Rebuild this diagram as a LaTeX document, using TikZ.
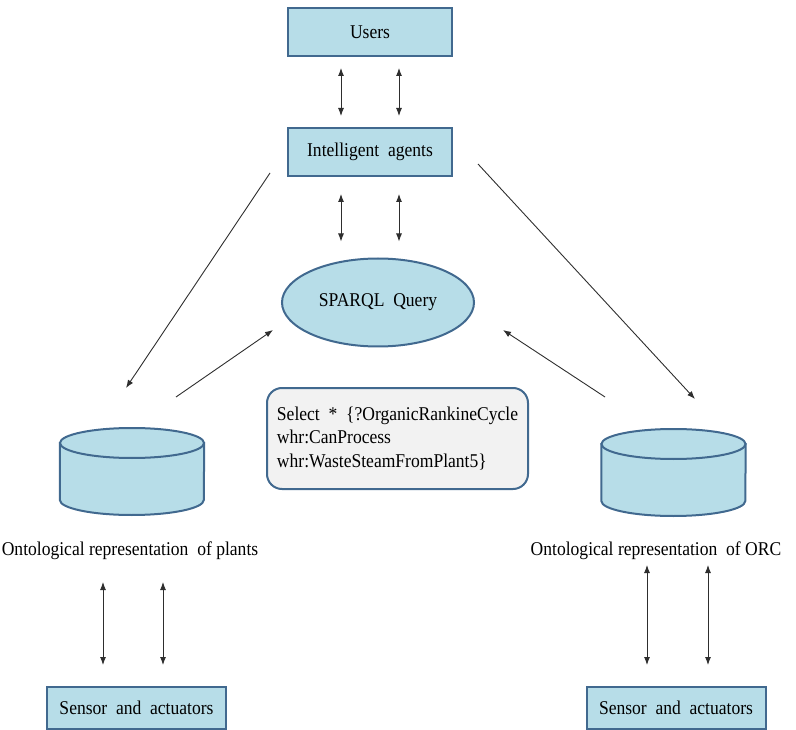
\documentclass[tikz,border=0pt]{standalone}
\usepackage{fontspec}
\setmainfont{Liberation Serif}[FakeStretch=0.9]
\usetikzlibrary{arrows.meta,shapes.geometric}

\definecolor{boxfill}{HTML}{B7DDE8}
\definecolor{boxline}{HTML}{41698F}
\definecolor{queryfill}{HTML}{F2F2F2}
\definecolor{arrowgray}{HTML}{2E2E2E}

\tikzset{
  bluebox/.style={draw=boxline, line width=2pt, fill=boxfill, rectangle,
    minimum width=164pt, minimum height=48pt, inner sep=0pt},
  sensorbox/.style={bluebox, minimum width=179pt, minimum height=42pt},
  queryellipse/.style={draw=boxline, line width=2pt, fill=boxfill, ellipse,
    minimum width=192pt, minimum height=88pt, inner sep=0pt},
  querybox/.style={draw=boxline, line width=2pt, fill=queryfill,
    rounded corners=15pt, minimum width=261pt, minimum height=101pt,
    inner sep=0pt, align=left},
  dbslot/.style={minimum width=144pt, minimum height=88pt, inner sep=0pt},
  dbshape/.style={draw=boxline, line width=2pt, fill=boxfill},
  biarrow/.style={draw=arrowgray, line width=0.9pt,
    {Latex[length=8pt,width=6pt]}-{Latex[length=8pt,width=6pt]}},
  onearrow/.style={draw=arrowgray, line width=0.9pt,
    -{Latex[length=8pt,width=6pt]}},
  txt/.style={font=\fontsize{19.5}{23.5}\selectfont, text=black}
}

\begin{document}
\begin{tikzpicture}[x=1pt,y=-1pt, every node/.append style={txt}]
\useasboundingbox (0,0) rectangle (796,730);

% top of the stack
\node[bluebox] (users) at (370,32) {Users};
\node[bluebox] (agents) at (370,152) {Intelligent\ \ agents};
\node[queryellipse] (sparql) at (378,302.5) {SPARQL\ \ Query};

% the query itself
\node[querybox] (query) at (397.5,438.5)
  {Select\ \ *\ \ \{?OrganicRankineCycle\\whr:CanProcess\\whr:WasteSteamFromPlant5\}};

% the two ontology stores (canvas y points up, so the lid is at +29pt)
\node[dbslot] (dbL) at (132,472) {};
\node[dbslot] (dbR) at (673.5,473) {};
\foreach \db in {dbL,dbR}{
  \path[dbshape] ([yshift=29pt]\db.west) -- ([yshift=-28pt]\db.west)
    arc[start angle=180, end angle=360, x radius=72pt, y radius=15pt]
    -- ([yshift=29pt]\db.east) -- cycle;
  \path[dbshape] ([yshift=29pt]\db.center) ellipse [x radius=72pt, y radius=15pt];
}
\node (labL) at (130,551) {Ontological representation\ \ of plants};
\node (labR) at (656,551) {Ontological representation\ \ of ORC};

% field level
\node[sensorbox] (senL) at (136.5,707.5) {Sensor\ \ and\ \ actuators};
\node[sensorbox] (senR) at (676,707.5) {Sensor\ \ and\ \ actuators};

% vertical two-way links
\foreach \dx in {-29,29}{
  \draw[biarrow, shorten <=11pt, shorten >=11pt]
    ([xshift=\dx pt]users.south) -- ([xshift=\dx pt]agents.north);
  \draw[biarrow, shorten <=17pt, shorten >=16pt]
    ([xshift=\dx pt]agents.south) -- ([xshift=\dx pt]agents.south |- sparql.north);
}
\coordinate (lA) at (103,582);
\coordinate (lB) at (103,665);
\coordinate (lC) at (163,582);
\coordinate (lD) at (163,665);
\draw[biarrow] (lA) -- (lB);
\draw[biarrow] (lC) -- (lD);
\coordinate (rA) at (647,565);
\coordinate (rB) at (647,665);
\coordinate (rC) at (708,565);
\coordinate (rD) at (708,665);
\draw[biarrow] (rA) -- (rB);
\draw[biarrow] (rC) -- (rD);

% diagonal links between agents, stores and query
\coordinate (agL) at (270,173);
\coordinate (toDbL) at (126,388);
\coordinate (fromDbL) at (176,397);
\coordinate (toSpL) at (273,330);
\coordinate (agR) at (478,164);
\coordinate (toDbR) at (695,399);
\coordinate (fromDbR) at (605,397);
\coordinate (toSpR) at (503,330);
\draw[onearrow] (agL) -- (toDbL);
\draw[onearrow] (fromDbL) -- (toSpL);
\draw[onearrow] (agR) -- (toDbR);
\draw[onearrow] (fromDbR) -- (toSpR);
\end{tikzpicture}
\end{document}
